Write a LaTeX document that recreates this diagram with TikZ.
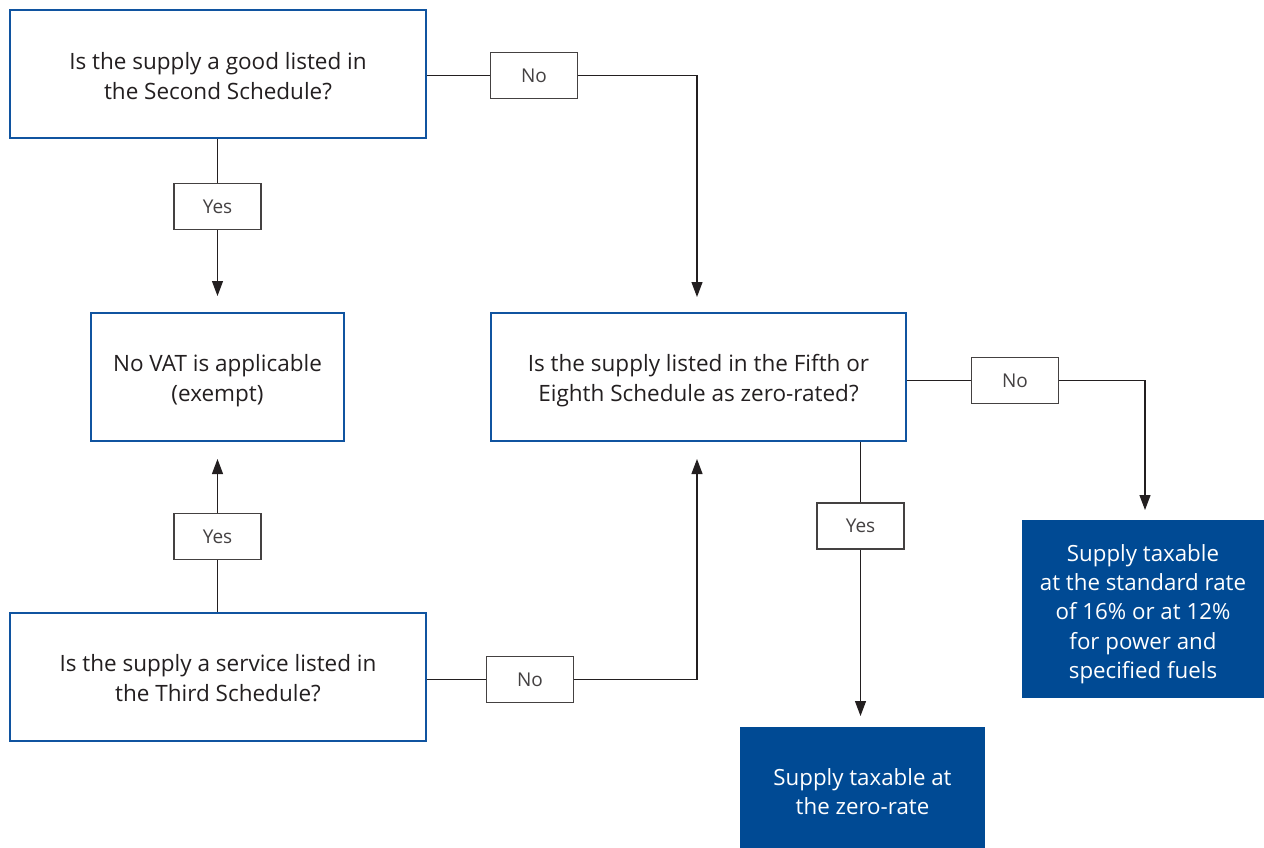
\documentclass[tikz,border=0pt]{standalone}
\usepackage{fontspec}
\setmainfont{Open Sans}
\usetikzlibrary{arrows.meta,calc}
\definecolor{qblue}{RGB}{16,84,160}
\definecolor{fblue}{RGB}{0,74,148}
\definecolor{ink}{RGB}{35,31,32}
\begin{document}
\begin{tikzpicture}[x=1pt,y=-1pt,
  qbox/.style={draw=qblue,line width=2.6pt,fill=white,inner sep=0pt},
  qtxt/.style={inner sep=0pt,align=center,text=ink,font=\fontsize{22.5}{30}\selectfont},
  rbox/.style={fill=fblue,inner sep=0pt},
  rtxt/.style={inner sep=0pt,align=center,text=white,font=\fontsize{22.3}{29.3}\selectfont},
  lbl/.style={draw=ink!85,line width=1.1pt,fill=white,minimum width=87pt,minimum height=46pt,inner sep=0pt,text=ink!85,font=\fontsize{19}{22}\selectfont},
  conn/.style={draw=ink,line width=1.15pt},
  arr/.style={conn,-{Triangle[length=15pt,width=11pt]}}
]
\useasboundingbox (0,0) rectangle (1264,848);
\node[qbox,minimum width=416pt,minimum height=128pt] (A) at (218,74) {};
\node[qtxt] (At) at ($(A.center)+(0,2)$) {Is the supply a good listed in\\the Second Schedule?};
\node[qbox,minimum width=253pt,minimum height=128pt] (B) at (217.5,377) {};
\node[qtxt] (Bt) at ($(B.center)+(0,3.5)$) {No VAT is applicable\\(exempt)};
\node[qbox,minimum width=416pt,minimum height=128pt] (C) at (218,677) {};
\node[qtxt] (Ct) at ($(C.center)+(0,1)$) {Is the supply a service listed in\\the Third Schedule?};
\node[qbox,minimum width=415pt,minimum height=128pt] (D) at (698.5,377) {};
\node[qtxt] (Dt) at ($(D.center)+(0,4)$) {Is the supply listed in the Fifth or\\Eighth Schedule as zero-rated?};
\node[rbox,minimum width=245pt,minimum height=121pt] (E) at (862.5,787.5) {};
\node[rtxt] (Et) at ($(E.center)+(0,4)$) {Supply taxable at\\the zero-rate};
\node[rbox,minimum width=242pt,minimum height=178pt] (F) at (1143,609) {};
\node[rtxt] (Ft) at ($(F.center)+(0,5)$) {Supply taxable\\at the standard rate\\of 16\% or at 12\%\\for power and\\specified fuels};
\node[lbl] (y1) at (217.5,206.5) {Yes};
\node[lbl] (n1) at (534,75.5) {No};
\node[lbl] (y2) at (217.5,536.5) {Yes};
\node[lbl] (n2) at (530,679.5) {No};
\node[lbl] (n3) at (1015,380.5) {No};
\node[lbl] (y3) at (860.5,526) {Yes};
\coordinate (tA) at (217.5,296);
\coordinate (tB) at (217.5,459);
\coordinate (tD1) at (697,297);
\coordinate (tD2) at (697,459);
\coordinate (tF) at (1145,510);
\coordinate (tE) at (860.5,716);
% A -> yes -> B
\draw[conn] (A.south -| y1) -- (y1.north);
\draw[arr] (y1.south) -- (tA);
% A -> no -> D
\draw[conn] (n1.west -| A.east) -- (n1.west);
\draw[arr] (n1.east) -| (tD1);
% C -> yes -> B
\draw[conn] (C.north -| y2) -- (y2.south);
\draw[arr] (y2.north) -- (tB);
% C -> no -> D
\draw[conn] (n2.west -| C.east) -- (n2.west);
\draw[arr] (n2.east) -| (tD2);
% D -> no -> F
\draw[conn] (n3.west -| D.east) -- (n3.west);
\draw[arr] (n3.east) -| (tF);
% D -> yes -> E
\draw[conn] (D.south -| y3) -- (y3.north);
\draw[arr] (y3.south) -- (tE);
\end{tikzpicture}
\end{document}
